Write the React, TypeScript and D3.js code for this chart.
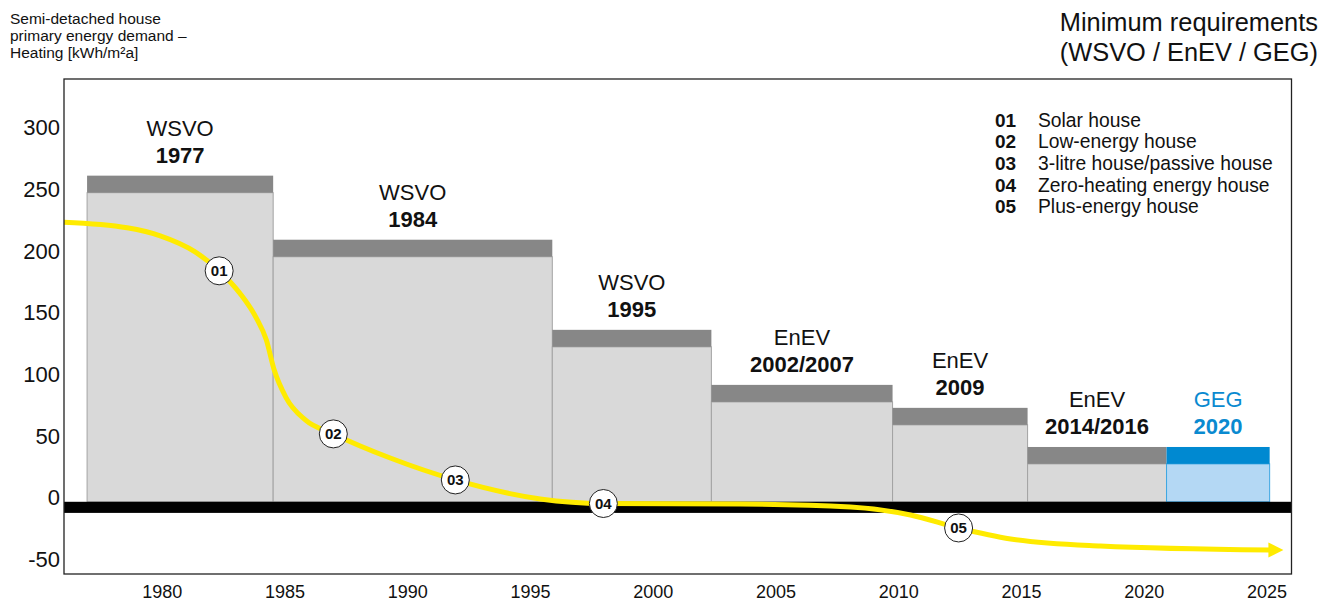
import * as d3 from "d3";
import React from "react";

// regulation periods (years)
const regulations = ["WSVO", "WSVO", "WSVO", "EnEV", "EnEV", "EnEV", "GEG"];
const editions = ["1977", "1984", "1995", "2002/2007", "2009", "2014/2016", "2020"];
const periodStart = [1976.94, 1984.52, 1995.89, 2002.37, 2009.75, 2015.25, 2020.91];
const periodEnd = [1984.52, 1995.89, 2002.37, 2009.75, 2015.25, 2020.91, 2025.11];
const upperLimit = [260.7, 208.8, 135.8, 91.2, 72.6, 40.9, 40.9];
const lowerLimit = [246.9, 195.0, 122.0, 77.4, 58.8, 27.2, 27.2];
const groundTop = -3.5;
const groundBottom = -12.5;

// yellow development curve
const curveYears = [
	1976.0, 1978.57, 1979.92, 1981.34, 1982.32, 1983.18, 1983.83, 1984.24, 1984.56,
	1985.05, 1985.83, 1986.97, 1989.29, 1991.94, 1995.4, 1997.97, 2003.55, 2008.04,
	2010.48, 2012.44, 2014.56, 2018.22, 2025.1,
];
const curveValues = [
	223, 218.5, 212, 199, 183.6, 165, 145.5, 127.7, 103.4, 80.7, 62.8, 51.5, 32,
	14.2, -1.2, -4.9, -5.3, -7.7, -14.2, -24.7, -33.6, -39.3, -42.6,
];

// numbered house standards
const stageCodes = ["01", "02", "03", "04", "05"];
const stageNames = [
	"Solar house",
	"Low-energy house",
	"3-litre house/passive house",
	"Zero-heating energy house",
	"Plus-energy house",
];
const stageYears = [1982.32, 1986.97, 1991.94, 1997.97, 2012.44];
const stageValues = [183.6, 51.5, 14.2, -4.9, -24.7];

const yTicks = [300, 250, 200, 150, 100, 50, 0, -50];
const xTicks = [1980, 1985, 1990, 1995, 2000, 2005, 2010, 2015, 2020, 2025];

const W = 1334;
const H = 605;
const FONT = "'Liberation Sans', Arial, Helvetica, sans-serif";

export default function App() {
	React.useEffect(() => {
		document.body.style.margin = "0";
	}, []);

	const plot = { left: 64, right: 1291.5, top: 79, bottom: 574 };
	const x = d3.scaleLinear().domain([1976, 2026]).range([plot.left, plot.right]);
	const y = d3.scaleLinear().domain([-62, 339]).range([plot.bottom, plot.top]);

	const line = d3
		.line<number>()
		.x((i) => x(curveYears[i]))
		.y((i) => y(curveValues[i]))
		.curve(d3.curveMonotoneX);
	const curvePath = line(d3.range(curveYears.length)) ?? "";

	const last = curveYears.length - 1;
	const tipX = x(curveYears[last]);
	const tipY = y(curveValues[last]);

	return (
		<svg width={W} height={H} style={{ display: "block", background: "#fff" }} fontFamily={FONT}>
			{/* titles */}
			<text x={10} fontSize={15.5} fill="#111">
				<tspan x={10} y={24}>Semi-detached house</tspan>
				<tspan x={10} y={41}>primary energy demand –</tspan>
				<tspan x={10} y={58}>Heating [kWh/m²a]</tspan>
			</text>
			<text textAnchor="end" fontSize={25.4} fill="#111">
				<tspan x={1318} y={31}>Minimum requirements</tspan>
				<tspan x={1318} y={61}>(WSVO / EnEV / GEG)</tspan>
			</text>

			{/* bars */}
			{editions.map((ed, i) => {
				const geg = regulations[i] === "GEG";
				const x0 = x(periodStart[i]);
				const x1 = x(periodEnd[i]);
				return (
					<g key={ed}>
						<rect
							x={x0}
							y={y(lowerLimit[i])}
							width={x1 - x0}
							height={y(groundTop) - y(lowerLimit[i])}
							fill={geg ? "#b4d8f4" : "#d9d9d9"}
							stroke={geg ? "#3da6e2" : "#a3a3a3"}
							strokeWidth={1}
						/>
						<rect
							x={x0}
							y={y(upperLimit[i])}
							width={x1 - x0}
							height={y(lowerLimit[i]) - y(upperLimit[i])}
							fill={geg ? "#0089d1" : "#878787"}
						/>
						<text
							x={(x0 + x1) / 2}
							textAnchor="middle"
							fontSize={22}
							fill={geg ? "#0a8ad0" : "#111"}
						>
							<tspan x={(x0 + x1) / 2} y={y(upperLimit[i]) - 40}>
								{regulations[i]}
							</tspan>
							<tspan x={(x0 + x1) / 2} y={y(upperLimit[i]) - 13} fontWeight="bold">
								{ed}
							</tspan>
						</text>
					</g>
				);
			})}

			{/* ground line */}
			<rect
				x={plot.left}
				y={y(groundTop)}
				width={plot.right - plot.left}
				height={y(groundBottom) - y(groundTop)}
				fill="#000"
			/>

			{/* development curve */}
			<path d={curvePath} fill="none" stroke="#ffeb00" strokeWidth={5} />
			<polygon
				points={`${tipX - 1},${tipY - 7.5} ${tipX + 14},${tipY} ${tipX - 1},${tipY + 7.5}`}
				fill="#ffeb00"
			/>
			{stageCodes.map((c, i) => (
				<g key={c} transform={`translate(${x(stageYears[i])},${y(stageValues[i])})`}>
					<circle r={14} fill="#fff" stroke="#222" strokeWidth={1} />
					<text textAnchor="middle" dy={5.5} fontSize={15} fontWeight="bold" fill="#111">
						{c}
					</text>
				</g>
			))}

			{/* frame */}
			<rect
				x={plot.left}
				y={plot.top}
				width={plot.right - plot.left}
				height={plot.bottom - plot.top}
				fill="none"
				stroke="#222"
				strokeWidth={1.3}
			/>

			{/* axes */}
			{yTicks.map((t) => (
				<text key={t} x={60} y={y(t) + 8} textAnchor="end" fontSize={22} fill="#111">
					{t}
				</text>
			))}
			{xTicks.map((t) => (
				<text key={t} x={x(t)} y={598} textAnchor="middle" fontSize={18} fill="#111">
					{t}
				</text>
			))}

			{/* legend */}
			{stageCodes.map((c, i) => (
				<g key={c} transform={`translate(995,${126.5 + i * 21.7})`}>
					<text fontSize={19} fontWeight="bold" fill="#111">
						{c}
					</text>
					<text x={43} fontSize={19.3} fill="#111">
						{stageNames[i]}
					</text>
				</g>
			))}
		</svg>
	);
}
